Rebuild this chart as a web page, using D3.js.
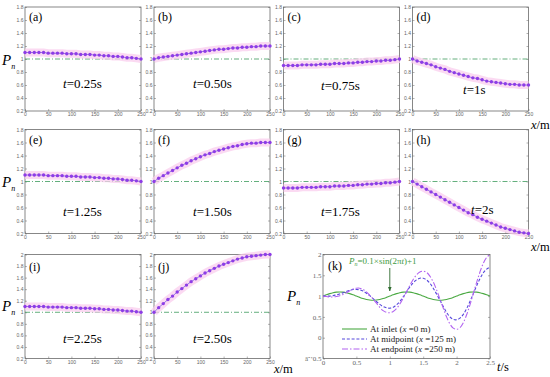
<html>
<head>
<style>
  body { margin: 0; background: #fff; }
  svg { display: block; }
</style>
</head>
<body>
<div id="chart"></div>
<script src="https://cdn.jsdelivr.net/npm/d3@7"></script>
<script>
// positions along the pipe (m)
var xPos = [0,10,20,30,40,50,60,70,80,90,100,110,120,130,140,150,160,170,180,190,200,210,220,230,240,250];

// pressure profiles P_n(x) at each time
var pA = [1.10,1.10,1.10,1.10,1.10,1.09,1.09,1.09,1.09,1.08,1.08,1.08,1.07,1.07,1.07,1.06,1.06,1.05,1.05,1.04,1.04,1.03,1.02,1.02,1.01,1.00];
var pB = [1.00,1.02,1.03,1.04,1.05,1.06,1.07,1.08,1.09,1.10,1.11,1.12,1.13,1.14,1.15,1.15,1.16,1.17,1.17,1.18,1.18,1.19,1.19,1.20,1.20,1.20];
var pC = [0.90,0.90,0.90,0.90,0.91,0.91,0.91,0.91,0.92,0.92,0.92,0.93,0.93,0.93,0.94,0.94,0.95,0.95,0.96,0.96,0.97,0.97,0.98,0.98,0.99,1.00];
var pD = [1.00,0.97,0.95,0.93,0.91,0.88,0.86,0.84,0.81,0.79,0.77,0.75,0.73,0.71,0.70,0.68,0.66,0.65,0.64,0.63,0.62,0.61,0.61,0.60,0.60,0.60];
var pE = [1.10,1.10,1.10,1.10,1.10,1.09,1.09,1.09,1.09,1.08,1.08,1.08,1.07,1.07,1.07,1.06,1.06,1.05,1.05,1.04,1.04,1.03,1.02,1.02,1.01,1.00];
var pF = [1.00,1.05,1.09,1.13,1.17,1.21,1.25,1.28,1.32,1.35,1.38,1.41,1.43,1.46,1.48,1.50,1.52,1.54,1.55,1.57,1.58,1.59,1.59,1.60,1.60,1.60];
var pG = [0.90,0.90,0.90,0.90,0.91,0.91,0.91,0.91,0.92,0.92,0.92,0.93,0.93,0.93,0.94,0.94,0.95,0.95,0.96,0.96,0.97,0.97,0.98,0.98,0.99,1.00];
var pH = [1.00,0.96,0.92,0.88,0.84,0.80,0.76,0.72,0.68,0.64,0.60,0.56,0.52,0.49,0.45,0.42,0.39,0.36,0.33,0.30,0.28,0.26,0.24,0.22,0.21,0.20];
var pI = [1.10,1.10,1.10,1.10,1.10,1.09,1.09,1.09,1.09,1.08,1.08,1.08,1.07,1.07,1.07,1.06,1.06,1.05,1.05,1.04,1.04,1.03,1.02,1.02,1.01,1.00];
var pJ = [1.00,1.08,1.15,1.22,1.28,1.35,1.41,1.47,1.53,1.58,1.63,1.68,1.72,1.76,1.80,1.83,1.86,1.89,1.92,1.94,1.96,1.97,1.98,1.99,2.00,2.00];

var panelNames = ["(a)","(b)","(c)","(d)","(e)","(f)","(g)","(h)","(i)","(j)"];
var timeNames = ["=0.25s","=0.50s","=0.75s","=1s","=1.25s","=1.50s","=1.75s","=2s","=2.25s","=2.50s"];

var xTicks = [0,50,100,150,200,250];
var yTicksShort = [0.2,0.4,0.6,0.8,1,1.2,1.4,1.6,1.8];
var yTicksTall = [0.2,0.4,0.6,0.8,1,1.2,1.4,1.6,1.8,2];

// time histories for panel (k)
var tSec = [0,0.05,0.1,0.15,0.2,0.25,0.3,0.35,0.4,0.45,0.5,0.55,0.6,0.65,0.7,0.75,0.8,0.85,0.9,0.95,
            1,1.05,1.1,1.15,1.2,1.25,1.3,1.35,1.4,1.45,1.5,1.55,1.6,1.65,1.7,1.75,1.8,1.85,1.9,1.95,
            2,2.05,2.1,2.15,2.2,2.25,2.3,2.35,2.4,2.45,2.5];
var pInlet = [1.000,1.031,1.059,1.081,1.095,1.100,1.095,1.081,1.059,1.031,1.000,0.969,0.941,0.919,0.905,0.900,0.905,0.919,0.941,0.969,
              1.000,1.031,1.059,1.081,1.095,1.100,1.095,1.081,1.059,1.031,1.000,0.969,0.941,0.919,0.905,0.900,0.905,0.919,0.941,0.969,
              1.000,1.031,1.059,1.081,1.095,1.100,1.095,1.081,1.059,1.031,1.000];
var pMid = [1.00,1.00,1.00,1.01,1.03,1.05,1.08,1.11,1.14,1.16,1.16,1.15,1.12,1.07,1.01,0.94,0.87,0.80,0.75,0.72,
            0.71,0.73,0.79,0.87,0.98,1.10,1.22,1.32,1.39,1.43,1.43,1.39,1.31,1.19,1.05,0.90,0.75,0.61,0.50,0.44,
            0.43,0.47,0.56,0.70,0.87,1.06,1.25,1.42,1.56,1.65,1.70];
var pEnd = [1.00,0.99,0.98,0.98,0.99,1.01,1.04,1.08,1.13,1.17,1.19,1.19,1.16,1.10,1.02,0.93,0.83,0.73,0.65,0.61,
            0.60,0.63,0.70,0.81,0.95,1.10,1.26,1.40,1.51,1.58,1.60,1.57,1.48,1.34,1.15,0.93,0.71,0.50,0.33,0.23,
            0.20,0.24,0.36,0.55,0.79,1.06,1.33,1.58,1.79,1.93,2.00];
var kXTicks = [0,0.5,1,1.5,2,2.5];
var kYTicks = [-0.5,0,0.5,1,1.5,2];
var legendNames = ["At inlet (", "At midpoint  (", "At endpoint  ("];
var legendVals = [" =0 m)", " =125 m)", " =250 m)"];

var serif = "Liberation Serif";
var width = 550, height = 377;
var svg = d3.select("#chart").append("svg")
  .attr("width", width).attr("height", height)
  .attr("font-family", serif);

var colX = [25, 154, 283.5, 412.5];
var rowY = [7, 129.5, 254.5];
var pw = 116, ph = 104;

var profiles = [pA,pB,pC,pD,pE,pF,pG,pH,pI,pJ];
var tLabelPos = [[63,88],[193,88],[321,90],[463,94],[63,216],[193,216],[321,216],[471,214],[63,343],[193,343]];

function axisStyle(g, size, fam) {
  g.attr("font-size", size).attr("font-family", fam || "Liberation Sans");
  g.select(".domain").remove();
  g.selectAll("line").attr("stroke", "#666").attr("stroke-width", 0.5);
  g.selectAll("text").attr("fill", "#666");
}

function drawPanel(i) {
  var x0 = colX[i % 4], y0 = rowY[Math.floor(i / 4)];
  var tall = i >= 8;
  var x = d3.scaleLinear().domain([0, 250]).range([x0, x0 + pw]);
  var y = d3.scaleLinear().domain([0.2, tall ? 2 : 1.8]).range([y0 + ph, y0]);
  var g = svg.append("g");

  g.append("rect").attr("x", x0).attr("y", y0).attr("width", pw).attr("height", ph)
    .attr("fill", "none").attr("stroke", "#555").attr("stroke-width", 0.7);

  g.append("g").attr("transform", "translate(" + x0 + ",0)")
    .call(d3.axisLeft(y).tickValues(tall ? yTicksTall : yTicksShort).tickSize(-2).tickPadding(1.5).tickFormat(d3.format("~g")))
    .call(axisStyle, 5);
  g.append("g").attr("transform", "translate(" + (x0 + pw) + ",0)")
    .call(d3.axisRight(y).tickValues(tall ? yTicksTall : yTicksShort).tickSize(-2).tickFormat(""))
    .call(axisStyle, 5);
  g.append("g").attr("transform", "translate(0," + (y0 + ph) + ")")
    .call(d3.axisBottom(x).tickValues(xTicks).tickSize(-2).tickPadding(1.5))
    .call(axisStyle, 5);

  // reference level P_n = 1
  g.append("line").attr("x1", x(0)).attr("x2", x(250)).attr("y1", y(1)).attr("y2", y(1))
    .attr("stroke", "#3c9a5c").attr("stroke-width", 0.8).attr("stroke-dasharray", "5,2,1,2");

  var data = profiles[i].map(function (v, k) { return [xPos[k], v]; });
  var line = d3.line().x(function (d) { return x(d[0]); }).y(function (d) { return y(d[1]); });

  g.append("path").datum(data).attr("d", line)
    .attr("fill", "none").attr("stroke", "#f9cdee").attr("stroke-width", 8).attr("opacity", 0.75);
  g.append("path").datum(data).attr("d", line)
    .attr("fill", "none").attr("stroke", "#6a4fe0").attr("stroke-width", 0.7);
  g.selectAll("circle").data(data).enter().append("circle")
    .attr("cx", function (d) { return x(d[0]); })
    .attr("cy", function (d) { return y(d[1]); })
    .attr("r", 1.7).attr("fill", "#8e3ce6");

  g.append("text").attr("x", x0 + 4).attr("y", y0 + (tall ? 16 : 14))
    .attr("font-family", serif).attr("font-size", 12).text(panelNames[i]);

  var tl = g.append("text").attr("x", tLabelPos[i][0]).attr("y", tLabelPos[i][1])
    .attr("font-family", serif).attr("font-size", 13);
  tl.append("tspan").attr("font-style", "italic").text("t");
  tl.append("tspan").text(timeNames[i]);
}

for (var i = 0; i < 10; i++) drawPanel(i);

function pnLabel(px, py) {
  var t = svg.append("text").attr("x", px).attr("y", py).attr("font-family", serif)
    .attr("font-size", 15).attr("font-style", "italic");
  t.append("tspan").text("P");
  t.append("tspan").attr("font-size", 8).attr("dy", 4).text("n");
}
pnLabel(2, 65);
pnLabel(2, 187);
pnLabel(2, 311);
pnLabel(287, 301);

function xmLabel(px, py, a, b) {
  var t = svg.append("text").attr("x", px).attr("y", py).attr("font-family", serif).attr("font-size", 12.5);
  t.append("tspan").attr("font-style", "italic").text(a);
  t.append("tspan").text(b);
}
xmLabel(531, 129, "x", "/m");
xmLabel(531, 251, "x", "/m");
xmLabel(274, 373, "x", "/m");
xmLabel(497, 371, "t", "/s");

// panel (k)
var kx = d3.scaleLinear().domain([0, 2.5]).range([323, 490]);
var ky = d3.scaleLinear().domain([-0.5, 2]).range([358.5, 254.5]);
var gk = svg.append("g");
gk.append("rect").attr("x", 323).attr("y", 254.5).attr("width", 167).attr("height", 104)
  .attr("fill", "none").attr("stroke", "#555").attr("stroke-width", 0.7);
gk.append("g").attr("transform", "translate(323,0)")
  .call(d3.axisLeft(ky).tickValues(kYTicks).tickSize(-2).tickPadding(1.5).tickFormat(d3.format("~g")))
  .call(axisStyle, 7, serif);
gk.append("g").attr("transform", "translate(490,0)")
  .call(d3.axisRight(ky).tickValues(kYTicks).tickSize(-2).tickFormat(""))
  .call(axisStyle, 7, serif);
gk.append("g").attr("transform", "translate(0,358.5)")
  .call(d3.axisBottom(kx).tickValues(kXTicks).tickSize(-2).tickPadding(1.5).tickFormat(d3.format("~g")))
  .call(axisStyle, 7, serif);

var series = [
  { vals: pInlet, color: "#4caa44", dash: null, w: 1.1 },
  { vals: pMid, color: "#5548dc", dash: "3,1.8", w: 1.1 },
  { vals: pEnd, color: "#b263f0", dash: "6,2,1.5,2", w: 1.1 }
];
var kline = d3.line().curve(d3.curveCatmullRom)
  .x(function (d) { return kx(d[0]); }).y(function (d) { return ky(d[1]); });
series.forEach(function (s, k) {
  var data = s.vals.map(function (v, j) { return [tSec[j], v]; });
  gk.append("path").datum(data).attr("d", kline)
    .attr("fill", "none").attr("stroke", s.color).attr("stroke-width", s.w)
    .attr("stroke-dasharray", s.dash);
  var ly = 329 + k * 10;
  gk.append("line").attr("x1", 342).attr("x2", 367).attr("y1", ly).attr("y2", ly)
    .attr("stroke", s.color).attr("stroke-width", s.w).attr("stroke-dasharray", s.dash);
  var lt = gk.append("text").attr("x", 370).attr("y", ly + 3).attr("font-family", serif)
    .attr("font-size", 9).attr("fill", "#222");
  lt.append("tspan").text(legendNames[k]);
  lt.append("tspan").attr("font-style", "italic").text("x");
  lt.append("tspan").text(legendVals[k]);
});

gk.append("text").attr("x", 328).attr("y", 270).attr("font-family", serif).attr("font-size", 12).text("(k)");

var ann = gk.append("text").attr("x", 349).attr("y", 264).attr("font-family", serif)
  .attr("font-size", 9).attr("fill", "#3f9a3f");
ann.append("tspan").attr("font-style", "italic").text("P");
ann.append("tspan").attr("font-size", 6).attr("dy", 2).attr("font-style", "italic").text("n");
ann.append("tspan").attr("dy", -2).text("=0.1\u00d7sin(2\u03c0");
ann.append("tspan").attr("font-style", "italic").text("t");
ann.append("tspan").text(")+1");

svg.append("defs").append("marker").attr("id", "arr")
  .attr("viewBox", "0 0 10 10").attr("refX", 9).attr("refY", 5)
  .attr("markerWidth", 5).attr("markerHeight", 5).attr("orient", "auto")
  .append("path").attr("d", "M0,1 L10,5 L0,9 z").attr("fill", "#2f6b2f");
gk.append("line").attr("x1", kx(1)).attr("x2", kx(1)).attr("y1", 268).attr("y2", 291)
  .attr("stroke", "#2f6b2f").attr("stroke-width", 0.9).attr("marker-end", "url(#arr)");
</script>
</body>
</html>
